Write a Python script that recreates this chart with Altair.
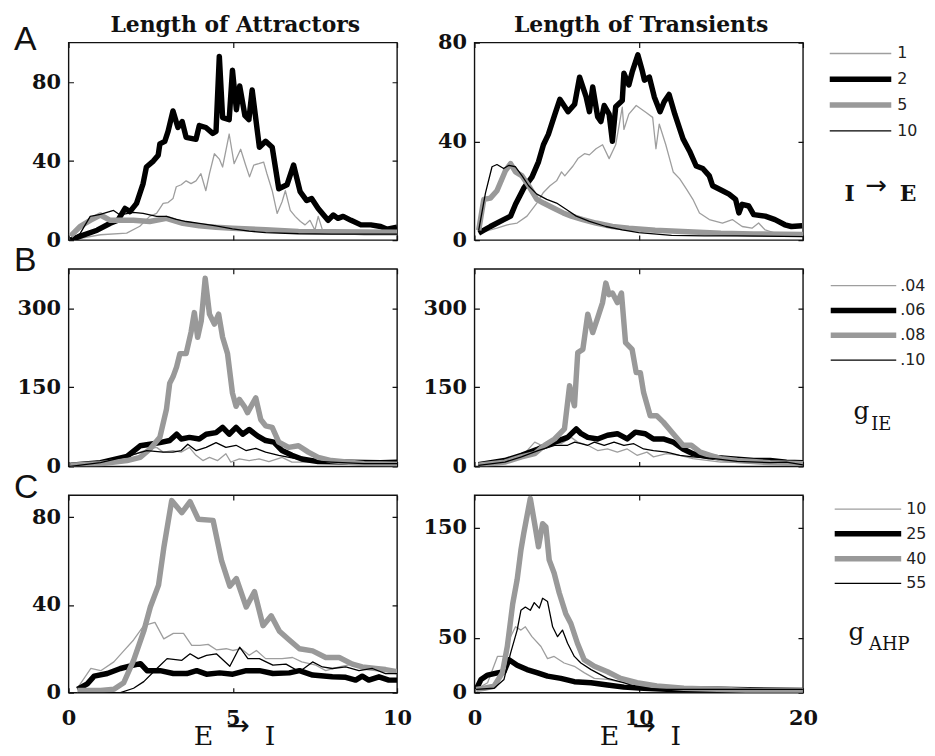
import altair as alt
import pandas as pd

# ---------------- text / categories ----------------
COL_TITLES = ["Length of Attractors", "Length of Transients"]
ROW_LETTERS = ["A", "B", "C"]
LEGEND_LABELS = [["1", "2", "5", "10"], [".04", ".06", ".08", ".10"], ["10", "25", "40", "55"]]
X_DOMAINS = [[0, 10], [0, 20]]
X_TICKS = [[0, 5, 10], [0, 10, 20]]
Y_DOMAINS = [[[0, 100], [0, 80]], [[0, 375], [0, 375]], [[0, 90], [0, 180]]]
Y_TICKS = [[[0, 40, 80], [0, 40, 80]], [[0, 150, 300], [0, 150, 300]], [[0, 40, 80], [0, 50, 150]]]
XTITLE_PARTS = ["E", "→", "I"]
CAPTIONS = [["I", "→", "E"], ["g", "IE"], ["g", "AHP"]]

# ---------------- series (x, y) ----------------
# Row A, left (attractors), series 1, 2, 5, 10
AL_1 = [(0.06, 0), (0.97, 2.7), (1.77, 3.5), (2.17, 7), (2.47, 12), (2.68, 13.5), (2.88, 18.6), (3.03, 19),
        (3.18, 21), (3.28, 27), (3.43, 28), (3.58, 30), (3.73, 28.6), (3.88, 30), (4.03, 33.6), (4.18, 25),
        (4.29, 33.6), (4.44, 43.7), (4.59, 41), (4.69, 37), (4.89, 53.7), (5.04, 38.7), (5.24, 46), (5.39, 38),
        (5.51, 32), (5.64, 38), (5.79, 38.7), (5.94, 39.5), (6.04, 33.6), (6.2, 25), (6.35, 13.5), (6.5, 19.4),
        (6.6, 25), (6.75, 15), (6.9, 12), (7.06, 9.4), (7.2, 7.7), (7.35, 10), (7.5, 5), (7.6, 12), (7.76, 3.5),
        (8.0, 3.5), (9.0, 2.7), (10.0, 2.7)]
AL_2 = [(0.06, 0), (0.36, 2), (0.87, 5), (1.27, 8.5), (1.5, 10), (1.72, 16), (1.87, 14.4), (2.07, 18.6),
        (2.27, 28.6), (2.37, 37), (2.58, 40), (2.73, 43), (2.78, 48.7), (2.93, 50), (3.03, 55), (3.18, 65.4),
        (3.33, 57), (3.46, 60), (3.58, 52), (3.88, 51), (3.98, 58), (4.18, 57), (4.39, 54), (4.49, 55), (4.59, 93),
        (4.69, 62), (4.89, 61), (4.99, 86), (5.11, 66), (5.21, 78), (5.37, 63), (5.49, 61), (5.59, 76), (5.81, 47),
        (6.0, 50), (6.2, 47), (6.4, 26), (6.65, 28), (6.85, 38), (7.05, 24.5), (7.25, 20), (7.4, 21), (7.6, 16),
        (7.9, 10), (8.06, 12.7), (8.2, 11), (8.36, 12), (8.6, 10), (8.9, 7.7), (9.2, 7.7), (9.5, 6.9),
        (9.7, 5.5), (10.0, 6.5)]
AL_5 = [(0.06, 2), (0.36, 7), (0.66, 10), (0.97, 12.7), (1.27, 10), (1.97, 10), (2.47, 9.4), (2.98, 11),
        (3.48, 8.5), (3.98, 7.2), (4.49, 6.5), (4.99, 6), (6.0, 5.2), (7.0, 4.4), (8.0, 4.2), (10.0, 4)]
AL_10 = [(0.06, 0), (0.36, 3.5), (0.66, 12), (0.97, 13), (1.37, 15), (1.57, 12.7), (1.97, 14), (2.27, 13.5),
         (2.68, 12), (2.98, 12), (3.28, 10.5), (3.58, 9.4), (3.98, 8.5), (4.49, 7.2), (4.99, 5.7), (5.5, 4.5),
         (6.0, 3.8), (7.0, 3.2), (8.0, 3), (10.0, 3)]

# Row A, right (transients)
AR_1 = [(0.26, 2.8), (1.37, 4.8), (2.0, 6.2), (2.6, 6.9), (3.2, 9.7), (3.8, 15), (4.2, 19.3), (4.6, 22),
        (5.0, 24), (5.3, 27.6), (5.5, 26), (6.0, 30), (6.3, 33), (6.7, 35), (7.0, 34.5), (7.4, 37), (7.8, 38.6),
        (8.2, 33), (8.6, 38.6), (9.0, 53.8), (9.1, 44.8), (9.4, 51), (9.85, 54.5), (10.45, 51.7), (10.85, 49.7),
        (11.05, 37), (11.25, 47), (11.65, 38.6), (12.1, 27.6), (12.5, 24.8), (12.9, 20.7), (13.3, 16.5),
        (13.7, 11), (14.3, 8.3), (15.1, 6.9), (15.7, 8.3), (16.3, 5.5), (16.9, 4.8), (17.3, 6.9), (17.7, 4.1),
        (18.3, 2.8), (19.95, 2)]
AR_2 = [(0.26, 2.8), (0.97, 5.5), (1.78, 8.3), (2.2, 9.7), (2.5, 14.5), (3.0, 21), (3.5, 25.5), (3.9, 31.7),
        (4.2, 38.6), (4.5, 42.8), (4.9, 51), (5.2, 57), (5.7, 52), (6.1, 55), (6.4, 66), (6.8, 58), (7.0, 52),
        (7.2, 62), (7.5, 50), (7.7, 48), (7.9, 54.5), (8.2, 51), (8.4, 40), (8.6, 54), (9.0, 56.5), (9.1, 67.6),
        (9.4, 62.8), (9.6, 68), (9.95, 75), (10.2, 69), (10.35, 64.8), (10.65, 66), (10.95, 58), (11.3, 52),
        (11.55, 56), (11.85, 59), (12.2, 51), (12.7, 41), (13.1, 36), (13.5, 30), (13.9, 29), (14.3, 26),
        (14.5, 22), (15.1, 20), (15.5, 18.6), (15.9, 16.5), (16.1, 11), (16.3, 14.5), (16.7, 13.8), (17.0, 10.3),
        (17.7, 9.7), (18.3, 8.3), (18.9, 6.2), (19.3, 5.5), (19.95, 5.8)]
AR_5 = [(0.26, 4), (0.57, 16.5), (0.97, 17), (1.37, 20), (1.88, 28), (2.2, 31), (2.5, 27.6), (2.9, 26),
        (3.3, 22), (3.8, 16.5), (4.2, 15), (4.8, 13), (5.4, 11), (5.9, 9.7), (6.6, 8.3), (7.4, 6.9), (8.4, 5.5),
        (9.4, 4.8), (11.0, 4), (13.0, 3.4), (15.0, 2.8), (17.0, 2.5), (20.0, 2.3)]
AR_10 = [(0.26, 4), (0.67, 19), (1.07, 29.7), (1.37, 30.6), (1.78, 29), (2.1, 30.3), (2.5, 29.7), (2.9, 26),
         (3.3, 22), (3.8, 18.6), (4.4, 16.5), (5.0, 15), (5.6, 12.4), (6.2, 9.7), (7.0, 7.6), (8.0, 5.5),
         (9.0, 4.1), (10.0, 3), (12.0, 1.9), (14.0, 1.7), (16.0, 1.7), (20.0, 1.4)]

# Row B, left (attractors), series .04, .06, .08, .10
BL_04 = [(0.06, 0), (0.97, 5), (1.78, 17), (2.18, 27), (2.48, 33), (2.68, 36), (2.88, 27), (3.18, 30),
         (3.43, 27), (3.68, 36), (3.88, 21), (4.09, 11), (4.29, 17), (4.54, 11), (4.79, 24), (4.94, 8),
         (5.2, 14), (5.5, 11), (5.8, 14), (6.1, 9), (6.5, 17), (6.8, 8), (7.5, 8), (8.5, 5), (10.0, 5)]
BL_06 = [(0.06, 2), (0.97, 7), (1.78, 19), (2.18, 39), (2.48, 42), (2.78, 45), (3.08, 49), (3.29, 61),
         (3.43, 52), (3.68, 55), (3.98, 52), (4.19, 61), (4.49, 64), (4.69, 74), (4.89, 61), (5.1, 74),
         (5.3, 61), (5.5, 70), (5.75, 58), (6.0, 49), (6.25, 46), (6.5, 30), (6.8, 21), (7.1, 14), (7.6, 9),
         (8.5, 8), (9.5, 7), (10.0, 8)]
BL_08 = [(0.06, 2), (0.97, 5), (1.78, 11), (2.18, 17), (2.48, 33), (2.78, 55), (2.98, 108), (3.08, 158),
         (3.18, 170), (3.29, 189), (3.39, 214), (3.58, 214), (3.73, 255), (3.83, 292), (3.93, 245), (4.04, 276),
         (4.16, 357), (4.29, 289), (4.44, 270), (4.57, 289), (4.69, 245), (4.84, 214), (4.99, 139), (5.1, 114),
         (5.2, 127), (5.35, 114), (5.45, 102), (5.7, 130), (5.85, 89), (6.0, 77), (6.2, 74), (6.4, 46), (6.7, 36),
         (7.0, 39), (7.3, 27), (7.6, 17), (8.0, 11), (9.0, 5), (10.0, 4)]
BL_10 = [(0.06, 0), (0.97, 7), (1.78, 19), (2.38, 30), (2.88, 27), (3.18, 27), (3.43, 30), (3.63, 42),
         (3.88, 30), (4.19, 36), (4.49, 45), (4.79, 36), (5.1, 40), (5.4, 30), (5.7, 34), (6.0, 27), (6.4, 21),
         (6.8, 16), (7.3, 11), (8.0, 8), (9.0, 5), (10.0, 5)]

# Row B, right (transients)
BR_04 = [(0.24, 2), (1.85, 8), (2.86, 18), (3.67, 46), (4.07, 40), (4.68, 43), (5.28, 43), (5.89, 55),
         (6.29, 46), (6.9, 40), (7.5, 30), (8.1, 33), (8.7, 27), (9.3, 33), (9.9, 21), (10.5, 27), (10.9, 18),
         (11.7, 24), (12.5, 21), (13.3, 14.5), (15.0, 8), (17.0, 7), (20.0, 5)]
BR_06 = [(0.24, 3), (1.85, 11), (2.86, 21), (3.87, 33), (4.88, 46), (5.67, 55), (6.2, 71), (6.5, 62),
         (6.9, 55), (7.5, 52), (8.1, 59), (8.7, 62), (9.3, 52), (9.8, 65), (10.4, 62), (10.9, 52), (11.5, 52),
         (12.1, 46), (12.7, 33), (13.3, 24), (14.3, 18), (15.6, 14.5), (17.0, 11), (18.0, 11), (19.0, 8),
         (20.0, 7)]
BR_08 = [(0.24, 2), (1.85, 8), (2.86, 18), (3.67, 24), (4.27, 40), (4.88, 52), (5.48, 71), (5.79, 153),
         (6.09, 115), (6.29, 216), (6.6, 222), (6.9, 289), (7.2, 254), (7.5, 282), (7.8, 311), (8.0, 348),
         (8.2, 326), (8.4, 329), (8.7, 311), (8.95, 329), (9.2, 235), (9.6, 222), (9.85, 178), (10.1, 178),
         (10.3, 140), (10.7, 96), (11.1, 96), (11.5, 84), (12.1, 62), (12.7, 40), (13.2, 40), (13.75, 27),
         (14.35, 21), (15.0, 14.5), (16.0, 11), (18.0, 7), (20.0, 5)]
BR_10 = [(0.24, 2), (1.85, 8), (2.86, 18), (3.87, 30), (4.88, 40), (5.67, 40), (6.1, 46), (6.5, 43),
         (6.9, 40), (7.3, 46), (7.9, 40), (8.5, 46), (9.1, 40), (9.7, 43), (10.3, 33), (10.9, 30), (11.7, 27),
         (12.5, 21), (13.3, 18), (14.6, 14.5), (16.0, 9.5), (18.0, 7), (19.0, 8), (20.0, 3)]

# Row C, left (attractors), series 10, 25, 40, 55
CL_10 = [(0.27, 2), (0.68, 11), (0.98, 10), (1.38, 14), (1.68, 19), (1.98, 24), (2.29, 30.5), (2.63, 32),
         (2.9, 24.5), (3.19, 27), (3.5, 27), (3.75, 21.5), (4.0, 21.5), (4.25, 22), (4.5, 19.5), (4.8, 20),
         (5.0, 19.2), (5.26, 20), (5.5, 17), (5.72, 19.2), (6.0, 15.5), (6.5, 15.5), (6.82, 16), (7.1, 14),
         (7.53, 12.5), (7.83, 10), (8.24, 11.7), (8.64, 13), (9.04, 11.7), (9.55, 11), (10.0, 10)]
CL_25 = [(0.27, 1.5), (0.57, 4), (0.78, 7.5), (1.18, 8.7), (1.58, 11), (1.98, 12.5), (2.19, 13.2), (2.39, 10),
         (2.79, 10), (3.19, 8.7), (3.6, 8.7), (3.9, 10), (4.2, 8.4), (4.6, 9), (5.0, 8.4), (5.41, 10), (5.81, 10),
         (6.22, 8.7), (6.72, 9), (7.03, 10), (7.43, 8), (8.03, 7.2), (8.44, 7), (8.74, 5.7), (8.94, 7.5),
         (9.14, 5.7), (9.45, 7.2), (9.75, 5.7), (10.0, 5.7)]
CL_40 = [(0.27, 1), (0.98, 1), (1.38, 1.5), (1.68, 4.5), (1.98, 14.7), (2.29, 28), (2.49, 39), (2.74, 49),
         (2.9, 66), (3.14, 87.5), (3.45, 82), (3.7, 87), (3.95, 79), (4.4, 78.5), (4.66, 60), (4.91, 48.5),
         (5.11, 52), (5.41, 39), (5.66, 46), (5.92, 30.5), (6.17, 35), (6.42, 28), (6.72, 24), (7.03, 20),
         (7.43, 19), (7.83, 16), (8.24, 16), (8.64, 13), (8.94, 11.7), (9.35, 11), (9.65, 10.5), (10.0, 9.5)]
CL_55 = [(0.27, 0), (0.98, 0), (1.58, 0), (1.98, 2), (2.29, 5), (2.69, 11), (3.0, 15.5), (3.45, 14.7),
         (3.7, 17.7), (3.95, 15.5), (4.2, 17), (4.5, 17.7), (4.91, 12), (5.21, 20.7), (5.46, 15.5), (5.81, 15.5),
         (6.22, 12.5), (6.62, 13), (7.03, 9.5), (7.43, 14), (7.73, 11.7), (8.03, 11), (8.44, 11.7), (8.84, 10),
         (9.25, 11), (9.65, 8.7), (10.0, 8.7)]

# Row C, right (transients)
CR_10 = [(0.1, 3), (0.8, 9), (1.4, 33), (1.8, 33), (2.2, 51), (2.5, 60), (2.83, 57), (3.1, 60), (3.5, 51),
         (4.05, 42), (4.45, 31), (4.85, 33), (5.46, 27), (6.08, 24), (6.7, 18), (7.3, 13), (8.1, 12), (9.1, 9),
         (10.3, 6), (11.7, 4), (20.0, 3)]
CR_25 = [(0.1, 3), (0.4, 12), (0.8, 16), (1.4, 18), (1.8, 19), (2.1, 30), (2.6, 25), (3.2, 21), (3.85, 18),
         (4.45, 15), (5.26, 13), (6.08, 10), (7.1, 9), (8.1, 7), (9.1, 5), (10.3, 4), (11.7, 3), (14.8, 3),
         (20.0, 2)]
CR_40 = [(0.1, 3), (0.6, 4), (1.2, 6), (1.7, 18), (2.0, 42), (2.33, 81), (2.6, 103), (2.83, 130), (3.0, 145),
         (3.4, 177), (3.7, 151), (3.9, 133), (4.15, 154), (4.35, 151), (4.55, 121), (4.85, 109), (5.16, 91),
         (5.56, 72), (5.87, 63), (6.27, 45), (6.68, 30), (7.3, 24), (8.1, 19), (8.9, 13), (9.9, 9), (11.1, 6),
         (12.75, 4), (14.8, 3), (16.8, 2), (20.0, 2)]
CR_55 = [(0.1, 3), (1.2, 4), (1.8, 12), (2.2, 36), (2.6, 57), (2.83, 75), (3.1, 78), (3.4, 75), (3.64, 82),
         (3.95, 77), (4.15, 86), (4.45, 83), (4.76, 60), (5.06, 51), (5.36, 57), (5.67, 45), (6.08, 33),
         (6.48, 27), (7.1, 21), (8.1, 13), (9.1, 9), (10.1, 4), (11.7, 3), (13.8, 3), (15.8, 3), (20.0, 3)]

PANELS = [
    [[AL_1, AL_2, AL_5, AL_10], [AR_1, AR_2, AR_5, AR_10]],
    [[BL_04, BL_06, BL_08, BL_10], [BR_04, BR_06, BR_08, BR_10]],
    [[CL_10, CL_25, CL_40, CL_55], [CR_10, CR_25, CR_40, CR_55]],
]

# ---------------- styles / layout ----------------
SERIF = "DejaVu Serif"
SANS = "DejaVu Sans"
LETTER_FONT = "Liberation Sans"
INK = "#111111"
COLORS = ["#9e9e9e", "#000000", "#999999", "#000000"]
WIDTHS = [1.3, 5.5, 5.5, 1.3]
W, H = 331, 199
TICK = 5
COL_GAP, ROW_GAP = 78, 29
LEG_W = 40
TITLE_X, TITLE_Y = 168, -11
LETTER_X = -55
LETTER_Y = [7, 2, 3]
XT_X = [136, 171, 203]
XT_Y = [H + 53, H + 35, H + 53]
LEG_Y = [[11, 89], [17, 92], [14, 89]]
LEG_X = [(-51, 11, 17), (-50, 16, 20), (-46, 21, 26)]
CAP_POS = [[(-31, 160), (-4, 145), (28, 160)], [(-19, 151), (1, 162)], [(-24, 146), (9, 156)]]
CAP_STYLE = [[(SERIF, 22, "bold", "alphabetic"), (SANS, 26, "normal", "middle"), (SERIF, 22, "bold", "alphabetic")],
             [(SERIF, 25, "normal", "alphabetic"), (SERIF, 18, "normal", "alphabetic")],
             [(SERIF, 25, "normal", "alphabetic"), (SERIF, 18, "normal", "alphabetic")]]

KEYS = [0, 1, 2, 3]
color_enc = alt.Color("k:N", scale=alt.Scale(domain=KEYS, range=COLORS), legend=None)
# line widths follow the series key through a fixed (identity) width per series
width_enc = alt.StrokeWidth("w:Q", scale=None, legend=None)


def text_piece(txt, x, y, font, size, weight="normal", baseline="alphabetic", align="center"):
    return alt.Chart(pd.DataFrame({"t": [txt]})).mark_text(
        font=font, fontSize=size, fontWeight=weight, baseline=baseline, align=align, color=INK
    ).encode(text="t:N", x=alt.value(x), y=alt.value(y))


def make_panel(r, c):
    recs = []
    for k, pts in enumerate(PANELS[r][c]):
        for x, y in pts:
            recs.append({"x": x, "y": y, "k": k, "w": WIDTHS[k]})
    df = pd.DataFrame(recs)
    show_x = r == 2
    xaxis = alt.Axis(values=X_TICKS[c], title=None, labels=show_x, ticks=False, tickSize=0, domain=False,
                     grid=True, gridColor=INK, gridWidth=1.2, gridOpacity=1, gridDash=[TICK, H - 2 * TICK, TICK],
                     labelFont=SERIF, labelFontSize=21, labelFontWeight="bold", labelColor=INK,
                     labelPadding=15, labelFlush=False, labelOverlap=False)
    yaxis = alt.Axis(values=Y_TICKS[r][c], title=None, ticks=False, tickSize=0, domain=False,
                     grid=True, gridColor=INK, gridWidth=1.2, gridOpacity=1, gridDash=[TICK, W - 2 * TICK, TICK],
                     labelFont=SERIF, labelFontSize=21, labelFontWeight="bold", labelColor=INK,
                     labelPadding=8, labelFlush=False, labelOverlap=False)
    lines = alt.Chart(df).mark_line(strokeJoin="round", clip=True).encode(
        x=alt.X("x:Q", scale=alt.Scale(domain=X_DOMAINS[c], nice=False, zero=False), axis=xaxis),
        y=alt.Y("y:Q", scale=alt.Scale(domain=Y_DOMAINS[r][c], nice=False, zero=False), axis=yaxis),
        color=color_enc,
        strokeWidth=width_enc,
        detail="k:N",
    )
    layers = [lines]
    if r == 0:
        layers.append(text_piece(COL_TITLES[c], TITLE_X, TITLE_Y, SERIF, 22, "bold"))
    if c == 0:
        layers.append(text_piece(ROW_LETTERS[r], LETTER_X, LETTER_Y[r], LETTER_FONT, 34, align="left"))
    if r == 2:
        for i, part in enumerate(XTITLE_PARTS):
            if part == "→":
                layers.append(text_piece(part, XT_X[i], XT_Y[i], SANS, 28, baseline="middle"))
            else:
                layers.append(text_piece(part, XT_X[i], XT_Y[i], SERIF, 27))
    return alt.layer(*layers).properties(
        width=W, height=H, view=alt.ViewBackground(stroke=INK, strokeWidth=1.4)
    )


def make_legend(r):
    df = pd.DataFrame({"lab": LEGEND_LABELS[r], "k": KEYS, "w": WIDTHS})
    yenc = alt.Y("k:O", scale=alt.Scale(type="point", domain=KEYS, range=LEG_Y[r], padding=0), axis=None)
    x0, x1, xt = LEG_X[r]
    rules = alt.Chart(df).mark_rule(strokeCap="butt").encode(
        y=yenc, x=alt.value(x0), x2=alt.value(x1), color=color_enc, strokeWidth=width_enc
    )
    labels = alt.Chart(df).mark_text(align="left", baseline="middle", font=SANS, fontSize=16, color="#222222").encode(
        y=yenc, x=alt.value(xt), text="lab:N"
    )
    layers = [rules, labels]
    for part, (px, py), (font, size, weight, base) in zip(CAPTIONS[r], CAP_POS[r], CAP_STYLE[r]):
        layers.append(text_piece(part, px, py, font, size, weight, base))
    return alt.layer(*layers).properties(
        width=LEG_W, height=H, view=alt.ViewBackground(stroke="transparent")
    )


cells = []
for r in range(3):
    cells += [make_panel(r, 0), make_panel(r, 1), make_legend(r)]

chart = alt.concat(
    *cells, columns=3, spacing={"row": ROW_GAP, "column": COL_GAP}, bounds="flush"
).properties(
    padding={"left": 5, "top": 2, "right": 0, "bottom": 0}
).configure(background="white")

chart.save("out.html", embed_options={"renderer": "svg", "actions": False})
